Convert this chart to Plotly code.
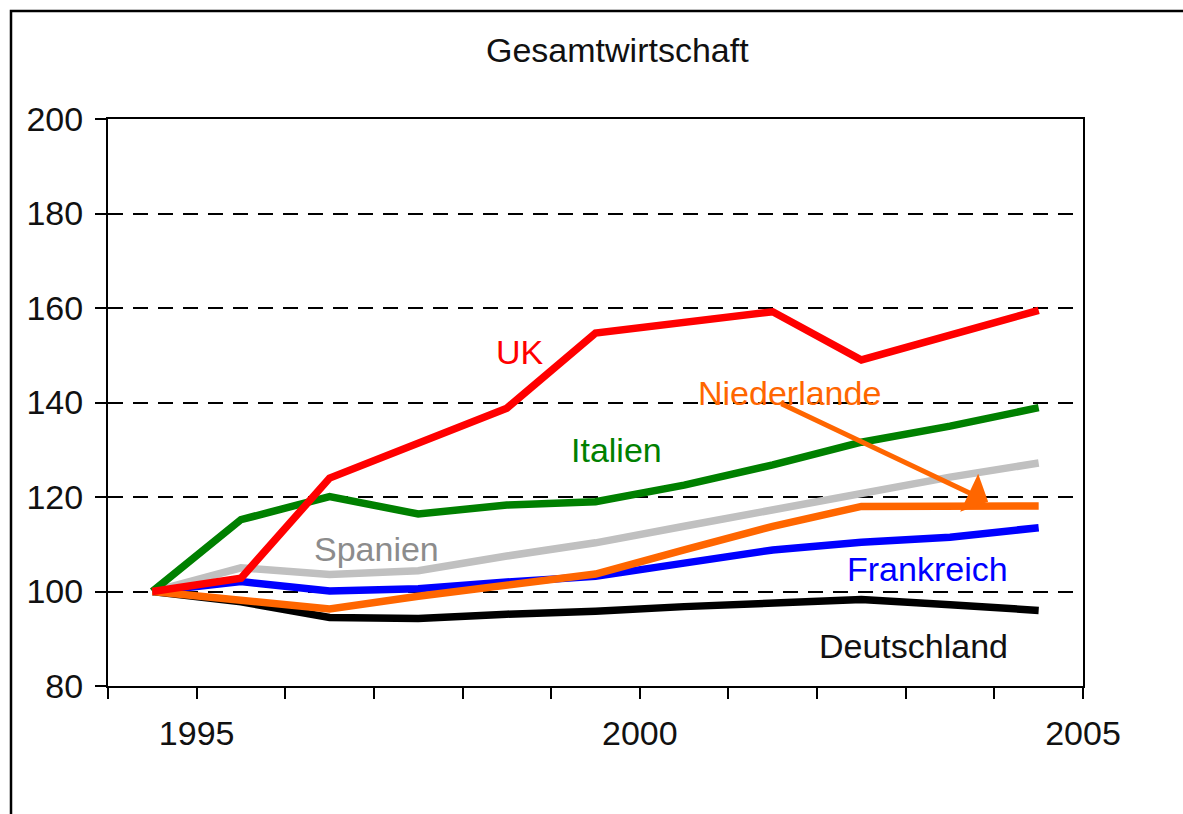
import plotly.graph_objects as go

years = [1994.5, 1995.5, 1996.5, 1997.5, 1998.5, 1999.5, 2000.5, 2001.5, 2002.5, 2003.5, 2004.5]

deutschland = [100, 97.8, 94.5, 94.3, 95.2, 95.8, 96.8, 97.6, 98.3, 97.2, 96.0]
frankreich = [100, 102.1, 100.1, 100.6, 102.0, 103.2, 106.0, 108.8, 110.4, 111.5, 113.5]
spanien = [100, 105.0, 103.6, 104.4, 107.5, 110.3, 113.8, 117.3, 120.8, 124.2, 127.2]
niederlande = [100, 98.2, 96.3, 99.0, 101.2, 103.7, 108.8, 113.8, 118.0, 118.0, 118.1]
italien = [100, 115.2, 120.1, 116.4, 118.3, 119.0, 122.5, 126.8, 131.6, 135.0, 138.9]
uk = [100, 102.8, 124.0, 131.4, 138.8, 154.7, 157.0, 159.2, 149.0, 154.3, 159.5]

series = [
    ("Deutschland", deutschland, "#000000"),
    ("Frankreich", frankreich, "#0000FF"),
    ("Spanien", spanien, "#C0C0C0"),
    ("Italien", italien, "#008000"),
    ("Niederlande", niederlande, "#FF6600"),
    ("UK", uk, "#FF0000"),
]

x_tick_vals = list(range(1994, 2006))
x_tick_text = ["", "1995", "", "", "", "", "2000", "", "", "", "", "2005"]
y_tick_vals = [80, 100, 120, 140, 160, 180, 200]

FONT = "Liberation Sans, Arial, sans-serif"

fig = go.Figure()
for name, vals, color in series:
    fig.add_trace(go.Scatter(
        x=years, y=vals, mode="lines", name=name,
        line=dict(color=color, width=7.5),
        showlegend=False, hoverinfo="skip",
    ))

labels = [
    ("UK", 1998.65, 150.7, "#FF0000", "center"),
    ("Niederlande", 2001.69, 142.0, "#FF6600", "center"),
    ("Italien", 1999.74, 130.0, "#008000", "center"),
    ("Spanien", 1997.03, 108.9, "#8C8C8C", "center"),
    ("Frankreich", 2004.18, 104.7, "#0000FF", "right"),
    ("Deutschland", 2004.18, 88.5, "#111111", "right"),
]
annotations = []
for text, xx, yy, col, anchor in labels:
    annotations.append(dict(
        x=xx, y=yy, xref="x", yref="y", text=text, showarrow=False,
        xanchor=anchor, yanchor="middle",
        font=dict(family=FONT, size=34, color=col),
    ))

# arrow from Niederlande label to its line
annotations.append(dict(
    x=2003.93, y=119.0, xref="x", yref="y",
    ax=2001.58, ay=139.9, axref="x", ayref="y",
    text="", showarrow=True, arrowhead=1, arrowsize=1.4, arrowwidth=5,
    arrowcolor="#FF6600",
))

annotations.append(dict(
    x=(617.5 - 108) / 975, y=(686 - 50) / 567, xref="paper", yref="paper",
    text="Gesamtwirtschaft", showarrow=False, xanchor="center", yanchor="middle",
    font=dict(family=FONT, size=34, color="#111111"),
))

# outer frame: only left and top edges fall inside the picture
shapes = [
    dict(type="rect", xref="paper", yref="paper",
         x0=(11 - 108) / 975, x1=(1300 - 108) / 975,
         y0=(686 - 11) / 567, y1=(686 - 950) / 567,
         line=dict(color="black", width=2.5), fillcolor="rgba(0,0,0,0)"),
]

fig.update_layout(
    width=1183, height=814,
    margin=dict(l=108, r=100, t=119, b=128, autoexpand=False),
    paper_bgcolor="white", plot_bgcolor="white",
    font=dict(family=FONT, size=34, color="#111111"),
    annotations=annotations, shapes=shapes,
    xaxis=dict(
        range=[1994, 2005], tickmode="array", tickvals=x_tick_vals, ticktext=x_tick_text,
        showgrid=False, zeroline=False,
        showline=True, linecolor="black", linewidth=2, mirror=True,
        ticks="outside", ticklen=11, tickwidth=2, tickcolor="black",
        ticklabelstandoff=5,
        tickfont=dict(family=FONT, size=34, color="#111111"),
    ),
    yaxis=dict(
        range=[80, 200], tickmode="array", tickvals=y_tick_vals,
        showgrid=True, gridcolor="black", gridwidth=2, griddash="15px,10px",
        zeroline=False,
        showline=True, linecolor="black", linewidth=2, mirror=True,
        ticks="outside", ticklen=11, tickwidth=2, tickcolor="black",
        ticklabelstandoff=5,
        tickfont=dict(family=FONT, size=34, color="#111111"),
    ),
)

post = ("document.body.style.margin='0';document.body.style.padding='0';"
        "document.body.style.overflow='hidden';"
        "document.documentElement.style.overflow='hidden';")

fig.write_html("out.html", post_script=post, config={"displayModeBar": False})
